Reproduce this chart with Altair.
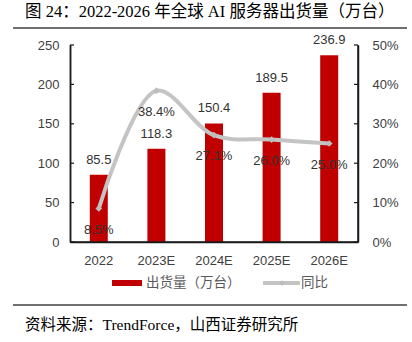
import altair as alt
import pandas as pd

years = ["2022", "2023E", "2024E", "2025E", "2026E"]
shipments = [85.5, 118.3, 150.4, 189.5, 236.9]
yoy = [0.085, 0.384, 0.271, 0.260, 0.250]
left_ticks = [0, 50, 100, 150, 200, 250]
right_ticks = [0, 0.1, 0.2, 0.3, 0.4, 0.5]

title_text = "图 24：2022-2026 年全球 AI 服务器出货量（万台）"
source_text = "资料来源：TrendForce，山西证券研究所"
legend_bar = "出货量（万台）"
legend_line = "同比"

df = pd.DataFrame({"year": years, "ship": shipments, "yoy": yoy})
df_lt = pd.DataFrame({"v": left_ticks})
df_rt = pd.DataFrame({"v": right_ticks})

W, H = 288, 197
LAT = "'Liberation Sans', 'Noto Sans CJK SC'"
TITLE_FONT = "'Liberation Serif', 'Noto Sans CJK SC'"
RED = "#C00000"
GRAY = "#C4C4C4"
AXC = "#1a1a1a"

x_axis = alt.Axis(labelAngle=0, ticks=False, labelPadding=12,
                  labelFont=LAT, labelFontSize=13, labelColor="#404040",
                  domain=True, domainColor=AXC, domainWidth=1.5)
x_scale = alt.Scale(paddingInner=0, paddingOuter=0)


def xenc():
    return alt.X("year:N", sort=years, title=None, scale=x_scale, axis=x_axis)


yl_scale = alt.Scale(domain=[0, 250])
yr_scale = alt.Scale(domain=[0, 0.5])
yl_axis = alt.Axis(values=left_ticks, grid=False, ticks=False, labelPadding=11,
                   labelOverlap=False, domain=True,
                   labelFont=LAT, labelFontSize=13, labelColor="#404040",
                   domainColor=AXC, domainWidth=1.5)
yr_axis = alt.Axis(orient="right", values=right_ticks, format=".0%", grid=False,
                   ticks=False, labelPadding=14, labelOverlap=False, domain=True,
                   labelFont=LAT, labelFontSize=13, labelColor="#404040",
                   domainColor=AXC, domainWidth=1.5)

base = alt.Chart(df)

bars = base.mark_bar(size=18, color=RED).encode(
    x=xenc(), y=alt.Y("ship:Q", scale=yl_scale, title=None, axis=yl_axis))
bar_text = base.mark_text(baseline="bottom", dy=-8, font=LAT, fontSize=13, color="#333333").encode(
    x=xenc(), y=alt.Y("ship:Q", scale=yl_scale, title=None, axis=yl_axis),
    text=alt.Text("ship:Q", format=".1f"))
lticks = alt.Chart(df_lt).mark_rule(color=AXC, strokeWidth=1.2).encode(
    x=alt.value(0), x2=alt.value(4),
    y=alt.Y("v:Q", scale=yl_scale, title=None, axis=yl_axis))
left = alt.layer(bars, lticks, bar_text)

line = base.mark_line(color=GRAY, strokeWidth=4, interpolate="catmull-rom").encode(
    x=xenc(), y=alt.Y("yoy:Q", scale=yr_scale, title=None, axis=yr_axis))
pts = base.mark_point(shape="diamond", filled=True, size=45, color="#BDBDBD", opacity=1).encode(
    x=xenc(), y=alt.Y("yoy:Q", scale=yr_scale, title=None, axis=yr_axis))
pct_text = base.mark_text(baseline="top", dy=15, font=LAT, fontSize=13, color="#333333").encode(
    x=xenc(), y=alt.Y("yoy:Q", scale=yr_scale, title=None, axis=yr_axis),
    text=alt.Text("yoy:Q", format=".1%"))
rticks = alt.Chart(df_rt).mark_rule(color=AXC, strokeWidth=1.2).encode(
    x=alt.value(W - 4), x2=alt.value(W),
    y=alt.Y("v:Q", scale=yr_scale, title=None, axis=yr_axis))
right = alt.layer(line, pts, rticks, pct_text)

one = pd.DataFrame({"a": [0]})
deco_base = alt.Chart(one)
dom_left = deco_base.mark_rule(color=AXC, strokeWidth=1.5).encode(
    x=alt.value(0.5), y=alt.value(0), y2=alt.value(H))
dom_right = deco_base.mark_rule(color=AXC, strokeWidth=1.5).encode(
    x=alt.value(W), y=alt.value(0), y2=alt.value(H))
dom_bot = deco_base.mark_rule(color=AXC, strokeWidth=1.5).encode(
    x=alt.value(0), x2=alt.value(W), y=alt.value(H))
title = deco_base.mark_text(align="left", baseline="middle", font=TITLE_FONT, fontSize=16.5,
                            color="#000000").encode(
    x=alt.value(-45), y=alt.value(-33), text=alt.value(title_text))
rule_top = deco_base.mark_rule(color="#404040", strokeWidth=1.5).encode(
    x=alt.value(-57), x2=alt.value(337), y=alt.value(-17))
rule_bot = deco_base.mark_rule(color="#404040", strokeWidth=1.5).encode(
    x=alt.value(-57), x2=alt.value(337), y=alt.value(260))
source = deco_base.mark_text(align="left", baseline="middle", font=TITLE_FONT, fontSize=15.5,
                             color="#000000").encode(
    x=alt.value(-45), y=alt.value(280), text=alt.value(source_text))
leg_rect = deco_base.mark_rect(color=RED).encode(
    x=alt.value(42), x2=alt.value(72), y=alt.value(235), y2=alt.value(241))
leg_t1 = deco_base.mark_text(align="left", baseline="middle", font="'Noto Sans CJK SC'",
                             fontSize=13.5, color="#595959").encode(
    x=alt.value(76), y=alt.value(238), text=alt.value(legend_bar))
leg_line = deco_base.mark_rule(color=GRAY, strokeWidth=4).encode(
    x=alt.value(193), x2=alt.value(230), y=alt.value(238))
leg_pt = deco_base.mark_point(shape="diamond", filled=True, size=30, color="#BDBDBD", opacity=1).encode(
    x=alt.value(212), y=alt.value(238))
leg_t2 = deco_base.mark_text(align="left", baseline="middle", font="'Noto Sans CJK SC'",
                             fontSize=13.5, color="#595959").encode(
    x=alt.value(231), y=alt.value(238), text=alt.value(legend_line))
deco = alt.layer(dom_left, dom_right, dom_bot, title, rule_top, rule_bot, source,
                 leg_rect, leg_t1, leg_line, leg_pt, leg_t2)

chart = alt.layer(left, right, deco).resolve_scale(y="independent").properties(
    width=W, height=H,
    padding={"left": 70, "top": 45, "right": 54, "bottom": 100},
    autosize=alt.AutoSizeParams(type="none"),
    background="white",
).configure_view(stroke=None)

chart.save("out.html", embed_options={"renderer": "svg", "actions": False})
